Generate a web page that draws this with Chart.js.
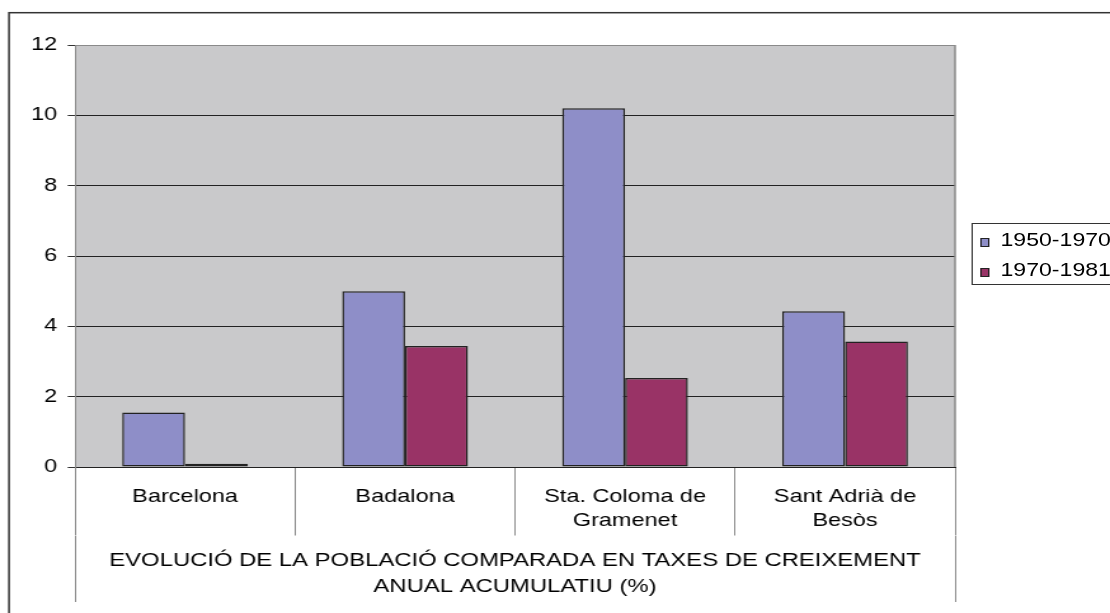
<!DOCTYPE html>
<html>
<head>
    <title>Evolució de la població</title>
    <meta charset="utf-8">
    <script src="https://cdn.jsdelivr.net/npm/chart.js"></script>
    <style>
        html, body {
            margin: 0;
            padding: 0;
            overflow: hidden;
            background: #fff;
        }

        /* the original picture is an Excel chart stretched sideways */
        #wrap {
            position: relative;
            width: 874px;
            height: 613px;
            transform: scaleX(1.27);
            transform-origin: 0 0;
        }

        #legend {
            position: absolute;
            left: 764.6px;
            top: 223.3px;
            width: 118px;
            height: 62px;
            border: 1px solid #333;
            box-sizing: border-box;
            padding: 1px 0 0 6px;
            font: 18.2px 'Liberation Sans', Arial, sans-serif;
            color: #000;
        }

        #legend .item {
            height: 30px;
            line-height: 30px;
            white-space: nowrap;
        }

        #legend .swatch {
            display: inline-block;
            width: 7.6px;
            height: 9.6px;
            border: 1px solid #222;
            box-sizing: border-box;
            margin-right: 8.6px;
            vertical-align: -1px;
        }
    </style>
</head>
<body>

<div id="wrap">
    <canvas id="chart" width="874" height="613"></canvas>
    <div id="legend"></div>
</div>

<script>
    // data
    const categories = ['Barcelona', 'Badalona', ['Sta. Coloma de', 'Gramenet'], ['Sant Adrià de', 'Besòs']];
    const axisTitle = ['EVOLUCIÓ DE LA POBLACIÓ COMPARADA EN TAXES DE CREIXEMENT', 'ANUAL ACUMULATIU (%)'];
    const seriesNames = ['1950-1970', '1970-1981'];
    const growth1950 = [1.55, 5.0, 10.2, 4.43];
    const growth1970 = [0.09, 3.44, 2.53, 3.57];
    const yMax = 12;
    const yStep = 2;

    const PLOT_BG = '#c9c9cb';
    const EDGE = '#8a8a8a';

    Chart.defaults.font.family = "'Liberation Sans', Arial, sans-serif";
    Chart.defaults.font.size = 18.5;
    Chart.defaults.color = '#000';

    // gray plot area + outer chart frame + right edge of the plot area
    const excelFrame = {
        id: 'excelFrame',
        beforeDraw(chart) {
            const {ctx, chartArea: a} = chart;
            ctx.save();
            ctx.fillStyle = PLOT_BG;
            ctx.fillRect(a.left, a.top, a.right - a.left, a.bottom - a.top);
            ctx.strokeStyle = '#333';
            ctx.lineWidth = 1.5;
            ctx.strokeRect(7.1, 12.7, 1000, 1000);
            ctx.restore();
        },
        beforeDatasetsDraw(chart) {
            const {ctx, chartArea: a} = chart;
            ctx.save();
            ctx.strokeStyle = EDGE;
            ctx.lineWidth = 1.5;
            ctx.beginPath();
            ctx.moveTo(a.right, a.top);
            ctx.lineTo(a.right, a.bottom);
            ctx.stroke();
            ctx.restore();
        }
    };

    // legend as html so it can get the boxed Excel look
    const htmlLegend = {
        id: 'htmlLegend',
        afterUpdate(chart) {
            const box = document.getElementById('legend');
            box.innerHTML = '';
            chart.data.datasets.forEach(ds => {
                const row = document.createElement('div');
                row.className = 'item';
                const sw = document.createElement('span');
                sw.className = 'swatch';
                sw.style.background = ds.backgroundColor;
                const txt = document.createElement('span');
                txt.textContent = ds.label;
                row.append(sw, txt);
                box.appendChild(row);
            });
        }
    };

    new Chart(document.getElementById('chart'), {
        type: 'bar',
        data: {
            labels: categories,
            datasets: [{
                label: seriesNames[0],
                data: growth1950,
                backgroundColor: '#8e8ec8',
                borderColor: '#222',
                borderWidth: 1.5,
                borderSkipped: false
            }, {
                label: seriesNames[1],
                data: growth1970,
                backgroundColor: '#993366',
                borderColor: '#222',
                borderWidth: 1.5,
                borderSkipped: false
            }]
        },
        options: {
            responsive: false,
            animation: false,
            layout: { padding: { left: 0, top: 45, right: 122, bottom: 11 } },
            datasets: {
                bar: { categoryPercentage: 0.5714, barPercentage: 1 }
            },
            plugins: {
                legend: { display: false },
                tooltip: { enabled: false }
            },
            scales: {
                x: {
                    grid: {
                        offset: true,
                        drawOnChartArea: false,
                        tickLength: 68.5,
                        tickColor: EDGE
                    },
                    border: { color: '#222' },
                    ticks: {
                        autoSkip: false,
                        maxRotation: 0,
                        padding: -50.5,
                        font: { lineHeight: '24px' }
                    },
                    afterFit: s => { s.height = 68.5; }
                },
                x2: {
                    type: 'category',
                    position: 'bottom',
                    weight: 1,
                    labels: [axisTitle],
                    grid: {
                        offset: true,
                        drawOnChartArea: false,
                        tickLength: 66.5,
                        tickColor: EDGE
                    },
                    border: { display: false },
                    ticks: {
                        autoSkip: false,
                        maxRotation: 0,
                        padding: -54,
                        font: { size: 18.8, lineHeight: '26px' }
                    },
                    afterFit: s => { s.height = 66.5; }
                },
                y: {
                    min: 0,
                    max: yMax,
                    ticks: { stepSize: yStep, padding: 8.2 },
                    grid: {
                        color: c => (c.tick && c.tick.value === yMax) ? EDGE : '#222',
                        tickColor: '#333',
                        tickLength: 5.8
                    },
                    border: { color: EDGE },
                    afterFit: s => { s.width = 59.1; }
                }
            }
        },
        plugins: [excelFrame, htmlLegend]
    });
</script>

</body>
</html>
